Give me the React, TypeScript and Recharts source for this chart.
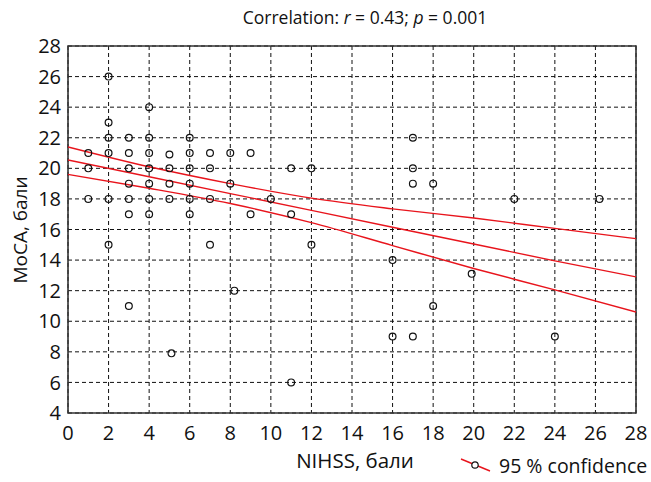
import {
  ComposedChart, Scatter, Line, XAxis, YAxis, CartesianGrid, ReferenceArea,
} from "recharts";

// NIHSS vs MoCA observations
const nihss = [
  1, 1, 1,
  2, 2, 2, 2, 2, 2,
  3, 3, 3, 3, 3, 3, 3,
  4, 4, 4, 4, 4, 4, 4,
  5, 5, 5, 5, 5.1,
  6, 6, 6, 6, 6, 6,
  7, 7, 7, 7,
  8, 8, 8.2,
  9, 9,
  10,
  11, 11, 11,
  12, 12,
  16, 16,
  17, 17, 17, 17,
  18, 18,
  19.9,
  22, 24, 26.2,
];
const moca = [
  21, 20, 18,
  26, 23, 22, 21, 18, 15,
  22, 21, 20, 19, 18, 17, 11,
  24, 22, 21, 20, 19, 18, 17,
  20.9, 20, 19, 18, 7.9,
  22, 21, 20, 19, 18, 17,
  21, 20, 18, 15,
  21, 19, 12,
  21, 17,
  18,
  20, 17, 6,
  20, 15,
  14, 9,
  22, 20, 19, 9,
  19, 11,
  13.1,
  18, 9, 18,
];

// regression line + 95% confidence band
const lineX = [0, 4, 8, 12, 16, 20, 24, 28];
const fitY = [20.55, 19.45, 18.35, 17.25, 16.15, 15.05, 13.95, 12.9];
const upperY = [21.4, 20.1, 19.0, 18.05, 17.35, 16.75, 16.07, 15.4];
const lowerY = [19.6, 18.7, 17.7, 16.45, 14.95, 13.45, 12.05, 10.6];

const xTicks = [0, 2, 4, 6, 8, 10, 12, 14, 16, 18, 20, 22, 24, 26, 28];
const yTicks = [4, 6, 8, 10, 12, 14, 16, 18, 20, 22, 24, 26, 28];

const points = nihss.map((x, i) => ({ x, y: moca[i] }));
const toLine = (ys: number[]) => lineX.map((x, i) => ({ x, y: ys[i] }));

const FONT = "'Open Sans', 'Noto Sans', sans-serif";
const RED = "#e8141c";

const Ring = (p: any) => (
  <circle cx={p.cx} cy={p.cy} r={3.4} fill="none" stroke="#111" strokeWidth={1.2} />
);

export default function App() {
  const tick = { fontSize: 20, fill: "#111", fontFamily: FONT };
  return (
    <div style={{ position: "absolute", left: 0, top: 0, width: 651, height: 482, background: "#fff", fontFamily: FONT, color: "#111" }}>
      <div style={{ position: "absolute", left: 365, top: 17, width: 0, height: 0 }}>
        <div style={{ position: "absolute", transform: "translate(-50%, -50%)", whiteSpace: "nowrap", fontSize: 17.5 }}>
          Correlation: <i>r</i> = 0.43; <i>p</i> = 0.001
        </div>
      </div>
      <ComposedChart
        width={651}
        height={482}
        margin={{ top: 46, right: 15, left: 20, bottom: 39 }}
      >
        <CartesianGrid stroke="#111" strokeDasharray="4 3" strokeWidth={1} />
        <XAxis
          dataKey="x"
          type="number"
          domain={[0, 28]}
          ticks={xTicks}
          interval={0}
          tick={tick}
          tickLine={false}
          tickSize={0}
          tickMargin={13}
          axisLine={false}
          height={30}
          allowDataOverflow
        />
        <YAxis
          type="number"
          domain={[4, 28]}
          ticks={yTicks}
          interval={0}
          tick={tick}
          tickLine={false}
          tickSize={0}
          tickMargin={7}
          axisLine={false}
          width={48}
          allowDataOverflow
        />
        <ReferenceArea x1={0} x2={28} y1={4} y2={28} fill="none" stroke="#333" strokeWidth={1.6} />
        <Line data={toLine(upperY)} dataKey="y" type="monotone" stroke={RED} strokeWidth={1.4} dot={false} isAnimationActive={false} />
        <Line data={toLine(fitY)} dataKey="y" type="linear" stroke={RED} strokeWidth={1.4} dot={false} isAnimationActive={false} />
        <Line data={toLine(lowerY)} dataKey="y" type="monotone" stroke={RED} strokeWidth={1.4} dot={false} isAnimationActive={false} />
        <Scatter data={points} dataKey="y" shape={Ring} isAnimationActive={false} />
      </ComposedChart>
      <div style={{ position: "absolute", left: 20, top: 230, width: 0, height: 0 }}>
        <div style={{ position: "absolute", transform: "translate(-50%, -50%) rotate(-90deg)", whiteSpace: "nowrap", fontSize: 19 }}>
          MoCA, бали
        </div>
      </div>
      <div style={{ position: "absolute", left: 355, top: 460, width: 0, height: 0 }}>
        <div style={{ position: "absolute", transform: "translate(-50%, -50%)", whiteSpace: "nowrap", fontSize: 20.5 }}>
          NIHSS, бали
        </div>
      </div>
      <svg style={{ position: "absolute", left: 458, top: 455 }} width={36} height={22}>
        <line x1={3} y1={4} x2={32} y2={16} stroke={RED} strokeWidth={1.4} />
        <circle cx={17} cy={10} r={3.2} fill="#fff" stroke="#111" strokeWidth={1.2} />
      </svg>
      <div style={{ position: "absolute", left: 499, top: 454, fontSize: 19.5, lineHeight: "24px", whiteSpace: "nowrap" }}>
        95 % confidence
      </div>
    </div>
  );
}
